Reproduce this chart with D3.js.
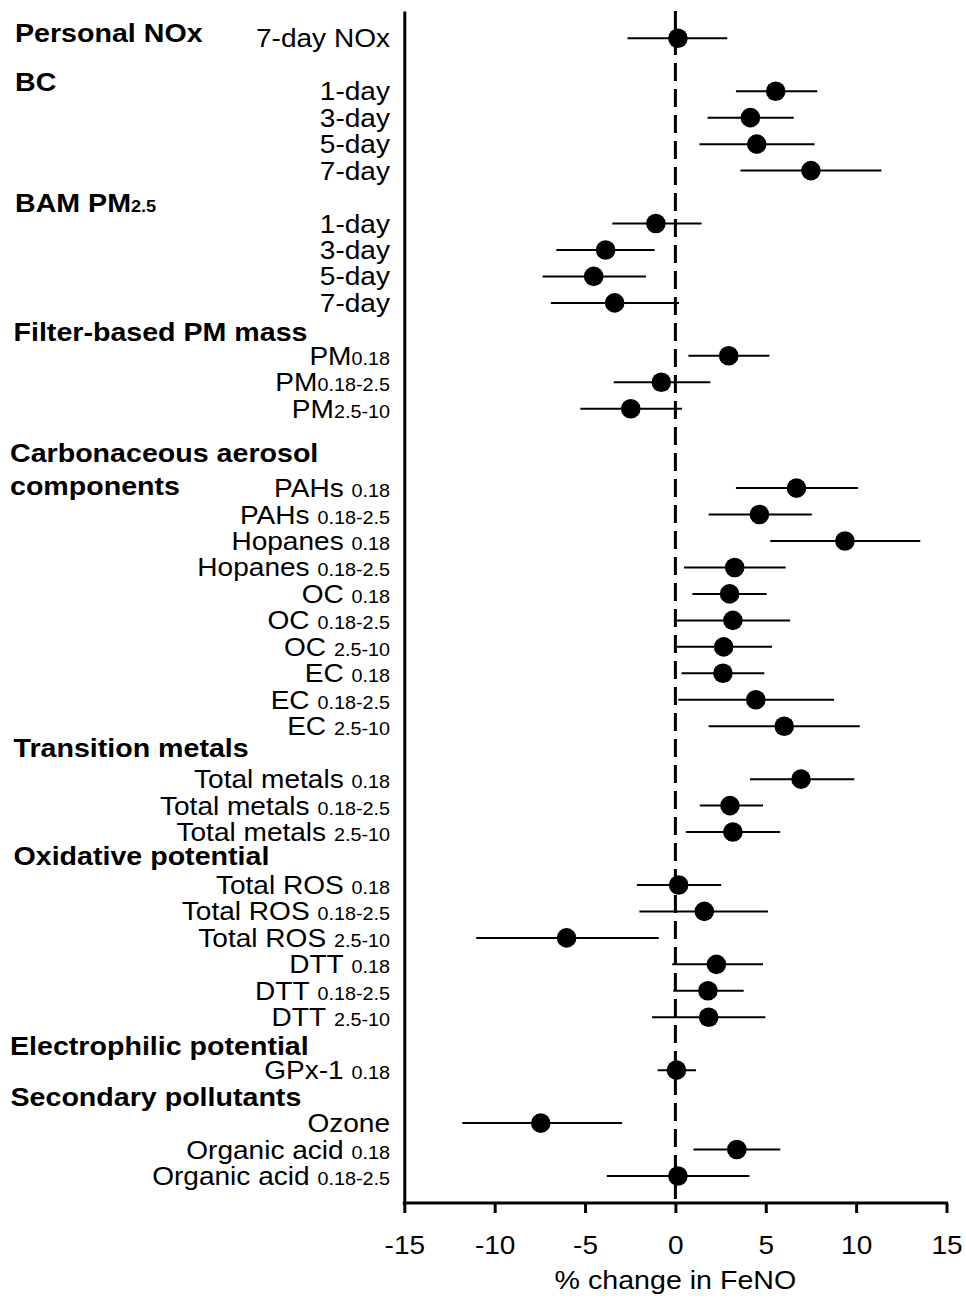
<!DOCTYPE html>
<html>
<head>
<meta charset="utf-8">
<script src="https://cdn.jsdelivr.net/npm/d3@7"></script>
<style>
  html, body { margin: 0; padding: 0; background: #fff; }
  svg { display: block; font-family: "Liberation Sans", Arial, sans-serif; }
</style>
</head>
<body>
<svg id="chart" width="966" height="1301"></svg>
<script>
// Exposure labels (main text + size-fraction subscript), their row in the plot
const labels = [
  "7-day NOx",
  "1-day", "3-day", "5-day", "7-day",
  "1-day", "3-day", "5-day", "7-day",
  "PM", "PM", "PM",
  "PAHs", "PAHs", "Hopanes", "Hopanes", "OC", "OC", "OC", "EC", "EC", "EC",
  "Total metals", "Total metals", "Total metals",
  "Total ROS", "Total ROS", "Total ROS", "DTT", "DTT", "DTT",
  "GPx-1",
  "Ozone", "Organic acid", "Organic acid"
];
const subscripts = [
  "",
  "", "", "", "",
  "", "", "", "",
  "0.18", "0.18-2.5", "2.5-10",
  "0.18", "0.18-2.5", "0.18", "0.18-2.5", "0.18", "0.18-2.5", "2.5-10", "0.18", "0.18-2.5", "2.5-10",
  "0.18", "0.18-2.5", "2.5-10",
  "0.18", "0.18-2.5", "2.5-10", "0.18", "0.18-2.5", "2.5-10",
  "0.18",
  "", "0.18", "0.18-2.5"
];
// true where the subscript is attached without a space
const subAttached = labels.map(d => d === "PM");
const rows = [
  0,
  2, 3, 4, 5,
  7, 8, 9, 10,
  12, 13, 14,
  17, 18, 19, 20, 21, 22, 23, 24, 25, 26,
  28, 29, 30,
  32, 33, 34, 35, 36, 37,
  39,
  41, 42, 43
];
// % change in FeNO: point estimate and 95% CI
const estimates = [
  0.14,
  5.55, 4.15, 4.50, 7.50,
  -1.08, -3.86, -4.52, -3.36,
  2.95, -0.78, -2.47,
  6.70, 4.65, 9.38, 3.28, 3.00, 3.18, 2.67, 2.63, 4.45, 6.02,
  6.95, 3.02, 3.18,
  0.18, 1.60, -6.02, 2.27, 1.80, 1.84,
  0.06,
  -7.45, 3.40, 0.14
];
const lower = [
  -2.65,
  3.35, 1.78, 1.33, 3.60,
  -3.49, -6.59, -7.35, -6.89,
  0.72, -3.41, -5.26,
  3.35, 1.84, 5.25, 0.48, 0.94, 0.06, 0.06, 0.34, 0.16, 1.84,
  4.13, 1.35, 0.58,
  -2.13, -1.99, -11.02, -0.18, -0.12, -1.29,
  -0.98,
  -11.79, 1.00, -3.80
];
const upper = [
  2.87,
  7.85, 6.55, 7.70, 11.40,
  1.45, -1.15, -1.63, 0.20,
  5.20, 1.93, 0.36,
  10.10, 7.55, 13.55, 6.10, 5.05, 6.35, 5.35, 4.92, 8.78, 10.20,
  9.90, 4.85, 5.80,
  2.53, 5.12, -0.92, 4.85, 3.78, 4.98,
  1.14,
  -2.95, 5.80, 4.10
];

// Group headings
const groupNames = [
  ["Personal NOx"],
  ["BC"],
  ["BAM PM"],
  ["Filter-based PM mass"],
  ["Carbonaceous aerosol", "components"],
  ["Transition metals"],
  ["Oxidative potential"],
  ["Electrophilic potential"],
  ["Secondary pollutants"]
];
const groupSubs = ["", "", "2.5", "", "", "", "", "", ""];

const xTicks = [-15, -10, -5, 0, 5, 10, 15];
const xTitle = "% change in FeNO";

// ---- layout ----
const headerLayout = [
  { row: -0.19, x: 15 },
  { row: 1.64, x: 15 },
  { row: 6.24, x: 15 },
  { row: 11.09, x: 13.5 },
  { row: 15.66, x: 10 },
  { row: 26.81, x: 13.5 },
  { row: 30.9, x: 13.5 },
  { row: 38.08, x: 10 },
  { row: 40.03, x: 10.5 }
];
const plotTop = 11, plotBottom = 1203;
const labelRight = 390;
const stretch = 1.1;       // horizontal widening of all lettering
const baselineShift = 9;   // text baseline below row centre

const svg = d3.select("#chart");
svg.append("rect").attr("width", 966).attr("height", 1301).attr("fill", "#fff");

const x = d3.scaleLinear().domain([-15, 15]).range([404.3, 946.5]);
const rowY = d3.scaleLinear().domain([0, 43]).range([38.3, 1176]);
const yFrame = d3.scaleLinear()
  .domain([rowY.invert(plotTop), rowY.invert(plotBottom)])
  .range([plotTop, plotBottom]);

const data = labels.map((d, i) => ({
  label: d, sub: subscripts[i], attached: subAttached[i],
  row: rows[i], est: estimates[i], lo: lower[i], hi: upper[i]
}));

// y axis (frame line only)
const yAxisG = svg.append("g")
  .attr("transform", `translate(${x(-15)},0)`)
  .call(d3.axisLeft(yFrame).tickValues([]).tickSizeOuter(0));
yAxisG.select(".domain").attr("stroke", "#000").attr("stroke-width", 3);

// x axis
const xAxisG = svg.append("g")
  .attr("transform", `translate(0,${plotBottom})`)
  .call(d3.axisBottom(x).tickValues(xTicks).tickSize(10).tickSizeOuter(0)
    .tickFormat(d3.format("d")));
xAxisG.select(".domain").attr("stroke", "#000").attr("stroke-width", 3)
  .attr("d", `M${x(-15) - 1.5},0H${x(15) + 1.5}`);
xAxisG.selectAll(".tick line").attr("stroke", "#000").attr("stroke-width", 3);
xAxisG.selectAll(".tick text")
  .attr("fill", "#000")
  .attr("font-size", 25.5)
  .attr("font-family", "Liberation Sans, Arial, sans-serif")
  .attr("y", 50.6).attr("dy", 0)
  .attr("transform", `scale(${stretch},1)`)
  .text(d => d < 0 ? "-" + Math.abs(d) : d);

svg.append("text")
  .attr("transform", `translate(${x(0)},1289) scale(${stretch},1)`)
  .attr("text-anchor", "middle")
  .attr("font-size", 26)
  .attr("fill", "#000")
  .text(xTitle);

// error bars
svg.append("g").selectAll("line")
  .data(data).join("line")
  .attr("x1", d => x(d.lo)).attr("x2", d => x(d.hi))
  .attr("y1", d => rowY(d.row)).attr("y2", d => rowY(d.row))
  .attr("stroke", "#000").attr("stroke-width", 2);

// reference line at zero
svg.append("line")
  .attr("x1", x(0)).attr("x2", x(0))
  .attr("y1", plotTop).attr("y2", plotBottom)
  .attr("stroke", "#000").attr("stroke-width", 3)
  .attr("stroke-dasharray", "18,8");

// point estimates
svg.append("g").selectAll("circle")
  .data(data).join("circle")
  .attr("cx", d => x(d.est)).attr("cy", d => rowY(d.row))
  .attr("r", 9.8).attr("fill", "#000");

// exposure labels
const lab = svg.append("g").selectAll("text")
  .data(data).join("text")
  .attr("transform", d => `translate(${labelRight},${rowY(d.row) + baselineShift}) scale(${stretch},1)`)
  .attr("text-anchor", "end")
  .attr("fill", "#000");
lab.append("tspan")
  .attr("font-size", 25.5)
  .text(d => d.sub && !d.attached ? d.label + "\u00a0" : d.label);
lab.append("tspan")
  .attr("font-size", 18)
  .text(d => d.sub);

// group headings
groupNames.forEach((lines, gi) => {
  const lay = headerLayout[gi];
  lines.forEach((line, li) => {
    const t = svg.append("text")
      .attr("transform", `translate(${lay.x},${rowY(lay.row) + baselineShift + li * 33.3}) scale(${stretch},1)`)
      .attr("font-weight", "bold")
      .attr("fill", "#000");
    t.append("tspan").attr("font-size", 26).text(line);
    if (groupSubs[gi] && li === lines.length - 1) {
      t.append("tspan").attr("font-size", 16.5).text(groupSubs[gi]);
    }
  });
});
</script>
</body>
</html>
